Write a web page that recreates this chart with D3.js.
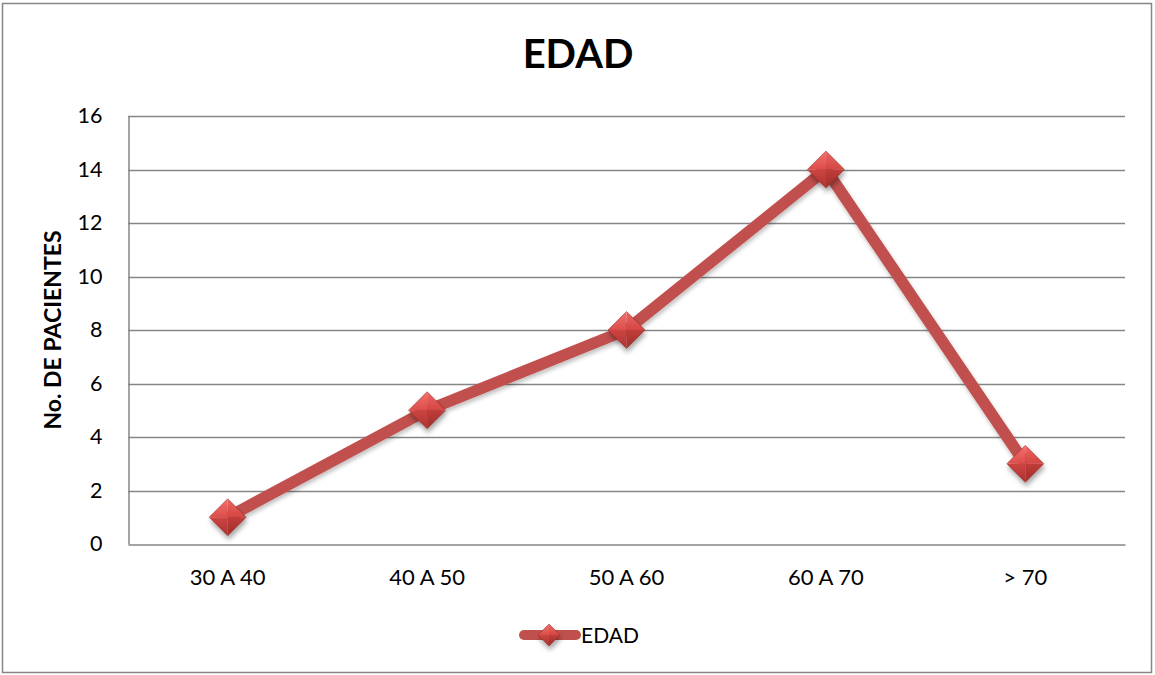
<!DOCTYPE html>
<html>
<head>
<meta charset="utf-8">
<script src="https://cdn.jsdelivr.net/npm/d3@7"></script>
<style>
  html, body { margin: 0; padding: 0; background: #fff; }
  svg { display: block; font-family: Lato, "Open Sans", sans-serif; }
</style>
</head>
<body>
<svg id="chart" width="1155" height="675"></svg>
<script>
// Age groups and number of patients in each
const categories = ["30 A 40", "40 A 50", "50 A 60", "60 A 70", "> 70"];
const patients = [1, 5, 8, 14, 3];
const yTicks = [0, 2, 4, 6, 8, 10, 12, 14, 16];
const seriesName = "EDAD";
const chartTitle = "EDAD";
const yTitle = "No. DE PACIENTES";

const W = 1155, H = 675;
const plot = { left: 128, right: 1125, top: 116, bottom: 544 };
const lineColor = "#C0504D";
const gridColor = "#868686";

const svg = d3.select("#chart");

// Gradients and shadow for the bevelled diamond markers
const defs = svg.append("defs");
const shadow = defs.append("filter").attr("id", "shadow")
  .attr("x", "-50%").attr("y", "-50%").attr("width", "200%").attr("height", "200%");
shadow.append("feGaussianBlur").attr("in", "SourceAlpha").attr("stdDeviation", 2.5).attr("result", "b");
shadow.append("feOffset").attr("in", "b").attr("dx", 1).attr("dy", 4).attr("result", "o");
shadow.append("feComponentTransfer").attr("in", "o").attr("result", "s")
  .append("feFuncA").attr("type", "linear").attr("slope", 0.35);
const merge = shadow.append("feMerge");
merge.append("feMergeNode").attr("in", "s");
merge.append("feMergeNode").attr("in", "SourceGraphic");

const lineShadow = defs.append("filter").attr("id", "lineShadow")
  .attr("x", "-10%").attr("y", "-10%").attr("width", "120%").attr("height", "120%");
lineShadow.append("feGaussianBlur").attr("in", "SourceAlpha").attr("stdDeviation", 2).attr("result", "b");
lineShadow.append("feOffset").attr("in", "b").attr("dx", 1).attr("dy", 3).attr("result", "o");
lineShadow.append("feComponentTransfer").attr("in", "o").attr("result", "s")
  .append("feFuncA").attr("type", "linear").attr("slope", 0.25);
const m2 = lineShadow.append("feMerge");
m2.append("feMergeNode").attr("in", "s");
m2.append("feMergeNode").attr("in", "SourceGraphic");

function grad(id, c1, c2) {
  const g = defs.append("linearGradient").attr("id", id)
    .attr("x1", 0).attr("y1", 0).attr("x2", 0).attr("y2", 1);
  g.append("stop").attr("offset", "0%").attr("stop-color", c1);
  g.append("stop").attr("offset", "100%").attr("stop-color", c2);
}
grad("facetTL", "#F2716E", "#DC4D4A");
grad("facetTR", "#EC6663", "#D44643");
grad("facetBL", "#CC4542", "#AE322F");
grad("facetBR", "#C03D3A", "#A02D2A");

// Chart border
svg.append("rect")
  .attr("x", 2.5).attr("y", 3.5).attr("width", 1149).attr("height", 669)
  .attr("fill", "#fff").attr("stroke", gridColor).attr("stroke-width", 1.5);

const x = d3.scaleBand().domain(categories).range([plot.left, plot.right]);
const y = d3.scaleLinear().domain([0, 16]).range([plot.bottom, plot.top]);

// Horizontal gridlines
svg.append("g").selectAll("line").data(yTicks.filter(d => d > 0)).join("line")
  .attr("x1", plot.left).attr("x2", plot.right)
  .attr("y1", d => Math.round(y(d)) + 0.5).attr("y2", d => Math.round(y(d)) + 0.5)
  .attr("stroke", gridColor).attr("stroke-width", 1.5);

// Y axis
const yAxis = svg.append("g")
  .attr("transform", `translate(${plot.left + 0.5},0)`)
  .call(d3.axisLeft(y).tickValues(yTicks).tickSize(0).tickPadding(26));
yAxis.select(".domain").attr("stroke", gridColor).attr("stroke-width", 1.5);
yAxis.selectAll("text").attr("font-size", 21.5).attr("fill", "#000")
  .attr("font-family", "Lato, sans-serif");

// X axis
const xAxis = svg.append("g")
  .attr("transform", `translate(0,${Math.round(plot.bottom) + 0.5})`)
  .call(d3.axisBottom(x).tickSize(0).tickPadding(25));
xAxis.select(".domain").attr("stroke", gridColor).attr("stroke-width", 1.5);
xAxis.selectAll("text").attr("font-size", 22).attr("fill", "#000")
  .attr("font-family", "Lato, sans-serif");

// Title
svg.append("text")
  .attr("x", 578).attr("y", 68)
  .attr("text-anchor", "middle")
  .attr("font-size", 40).attr("font-weight", "bold")
  .text(chartTitle);

// Y axis title
svg.append("text")
  .attr("transform", "translate(61,330) rotate(-90)")
  .attr("text-anchor", "middle")
  .attr("font-size", 23).attr("font-weight", "bold")
  .text(yTitle);

// Series line
const cx = d => x(d.cat) + x.bandwidth() / 2;
const pts = categories.map((c, i) => ({ cat: c, v: patients[i] }));
svg.append("path")
  .datum(pts)
  .attr("d", d3.line().x(cx).y(d => y(d.v)))
  .attr("fill", "none").attr("stroke", lineColor)
  .attr("stroke-width", 11.5).attr("stroke-linejoin", "round")
  .attr("filter", "url(#lineShadow)");

// Bevelled diamond marker
function diamond(g, r) {
  g.attr("filter", "url(#shadow)");
  const facets = [
    { id: "facetTL", p: [[-r, 0], [0, -r], [0, 0]] },
    { id: "facetTR", p: [[0, -r], [r, 0], [0, 0]] },
    { id: "facetBL", p: [[-r, 0], [0, 0], [0, r]] },
    { id: "facetBR", p: [[0, 0], [r, 0], [0, r]] }
  ];
  g.selectAll("path").data(facets).join("path")
    .attr("d", f => "M" + f.p.map(q => q.join(",")).join("L") + "Z")
    .attr("fill", f => `url(#${f.id})`);
  g.append("path")
    .attr("d", `M${-r},0L0,${-r}L${r},0L0,${r}Z`)
    .attr("fill", "none").attr("stroke", "#8E2522").attr("stroke-width", 0.8)
    .attr("stroke-opacity", 0.6);
}

svg.append("g").selectAll("g").data(pts).join("g")
  .attr("transform", d => `translate(${cx(d)},${y(d.v)})`)
  .each(function () { diamond(d3.select(this), 18.5); });

// Legend
const legend = svg.append("g").attr("transform", "translate(0,635)");
legend.append("line")
  .attr("x1", 524).attr("x2", 576).attr("y1", 0).attr("y2", 0)
  .attr("stroke", lineColor).attr("stroke-width", 10).attr("stroke-linecap", "round");
legend.append("g").attr("transform", "translate(549,0)")
  .call(g => diamond(g, 11));
legend.append("text")
  .attr("x", 581).attr("y", 8)
  .attr("font-size", 21)
  .text(seriesName);
</script>
</body>
</html>
